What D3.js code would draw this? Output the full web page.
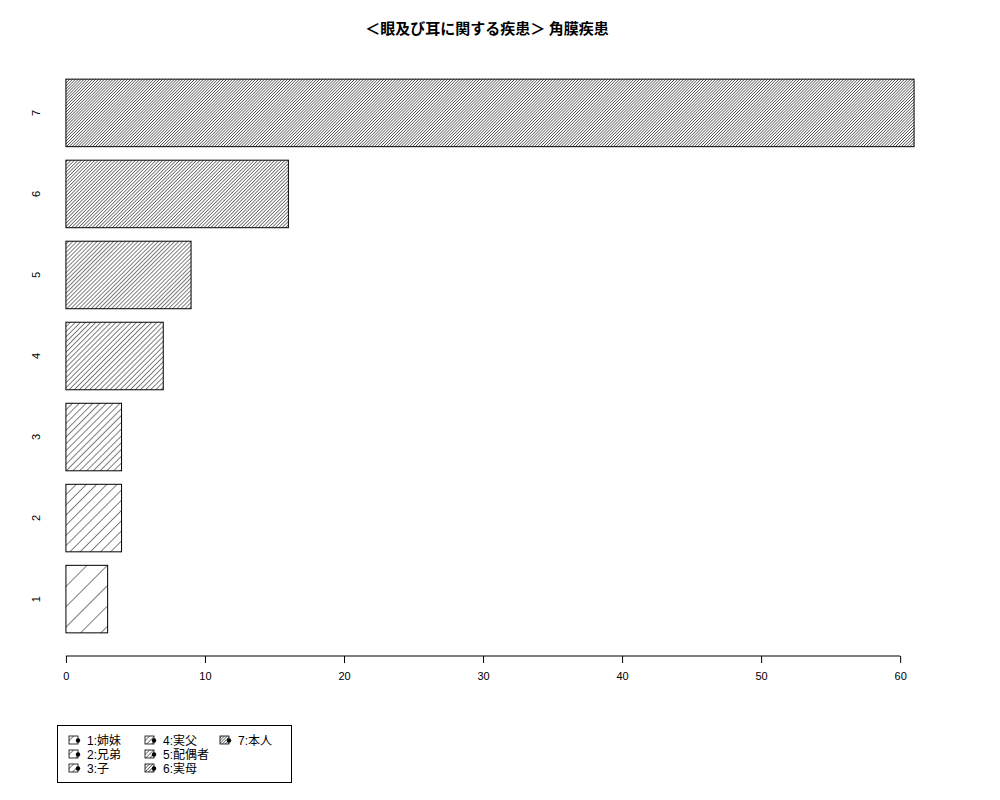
<!DOCTYPE html>
<html>
<head>
<meta charset="utf-8">
<script src="https://cdn.jsdelivr.net/npm/d3@7"></script>
<style>
  body { margin: 0; background: #fff; }
  text { font-family: "Liberation Sans", "Noto Sans CJK JP", sans-serif; }
</style>
</head>
<body>
<script>
var width = 1000;
var height = 800;

// data
var categories = ["1", "2", "3", "4", "5", "6", "7"];
var values = [3, 4, 4, 7, 9, 16, 61];
var densities = [5, 10, 15, 20, 25, 30, 35];
var legendLabels = ["1:姉妹", "2:兄弟", "3:子", "4:実父", "5:配偶者", "6:実母", "7:本人"];
var xTicks = [0, 10, 20, 30, 40, 50, 60];
var title = "＜眼及び耳に関する疾患＞ 角膜疾患";

var svg = d3.select("body").append("svg")
  .attr("width", width)
  .attr("height", height);

// hatch patterns, spacing in px from lines per inch (72 dpi)
var defs = svg.append("defs");
densities.forEach(function(d, i){
  var s = 72 / d;
  var p = defs.append("pattern")
    .attr("id", "hatch" + i)
    .attr("patternUnits", "userSpaceOnUse")
    .attr("width", s)
    .attr("height", 10)
    .attr("patternTransform", "rotate(45)");
  p.append("line")
    .attr("x1", 0).attr("y1", -1)
    .attr("x2", 0).attr("y2", 11)
    .attr("stroke", "#000")
    .attr("stroke-width", 1);
});

// R barplot layout: bar width 1, space 0.2
var x = d3.scaleLinear().domain([-2.44, 63.44]).range([32, 948]);
var y = d3.scaleLinear().domain([-0.128, 8.728]).range([655, 57]);

var bars = values.map(function(v, i){
  return { cat: categories[i], v: v, lo: 0.2 + i * 1.2, hi: 1.2 + i * 1.2, i: i };
});

svg.selectAll("rect.bar")
  .data(bars)
  .enter()
  .append("rect")
  .attr("class", "bar")
  .attr("x", x(0))
  .attr("y", function(d){ return y(d.hi); })
  .attr("width", function(d){ return x(d.v) - x(0); })
  .attr("height", function(d){ return y(d.lo) - y(d.hi); })
  .attr("fill", function(d){ return "url(#hatch" + d.i + ")"; })
  .attr("stroke", "#000")
  .attr("stroke-width", 1);

// category labels, rotated like R's las=0
svg.selectAll("text.cat")
  .data(bars)
  .enter()
  .append("text")
  .attr("class", "cat")
  .attr("transform", function(d){
    return "translate(40," + y((d.lo + d.hi) / 2) + ") rotate(-90)";
  })
  .attr("text-anchor", "middle")
  .attr("font-size", 11)
  .text(function(d){ return d.cat; });

// x axis
var xAxis = d3.axisBottom(x)
  .tickValues(xTicks)
  .tickSize(7)
  .tickPadding(9)
  .tickSizeOuter(0);
var gx = svg.append("g")
  .attr("transform", "translate(0,656)")
  .call(xAxis);
gx.select(".domain").attr("d", "M" + x(0) + ",0H" + x(60));
gx.selectAll("text").attr("font-size", 11).attr("font-family", "Liberation Sans, sans-serif");

// title
svg.append("text")
  .attr("x", 487)
  .attr("y", 34)
  .attr("text-anchor", "middle")
  .attr("font-size", 15)
  .attr("font-weight", "bold")
  .style("font-family", "'Noto Sans CJK JP', sans-serif")
  .text(title);

// legend
var lg = svg.append("g");
lg.append("rect")
  .attr("x", 57.5).attr("y", 725.5)
  .attr("width", 234).attr("height", 57)
  .attr("fill", "none").attr("stroke", "#000");

var colX = [69, 145, 220];
var rowY = [740, 754, 768];
var items = lg.selectAll("g.item")
  .data(legendLabels)
  .enter()
  .append("g")
  .attr("class", "item")
  .attr("transform", function(d, i){
    return "translate(" + colX[Math.floor(i / 3)] + "," + rowY[i % 3] + ")";
  });
items.append("rect")
  .attr("x", 0).attr("y", -4)
  .attr("width", 9).attr("height", 8)
  .attr("fill", function(d, i){ return "url(#hatch" + i + ")"; })
  .attr("stroke", "#000")
  .attr("stroke-width", 0.8);
items.append("circle")
  .attr("cx", 9).attr("cy", 0.5).attr("r", 2.2)
  .attr("fill", "#000");
items.append("text")
  .attr("x", 18).attr("y", 4.5)
  .attr("font-size", 12)
  .style("font-family", "'Liberation Sans', 'Noto Sans CJK JP', sans-serif")
  .text(function(d){ return d; });
</script>
</body>
</html>
